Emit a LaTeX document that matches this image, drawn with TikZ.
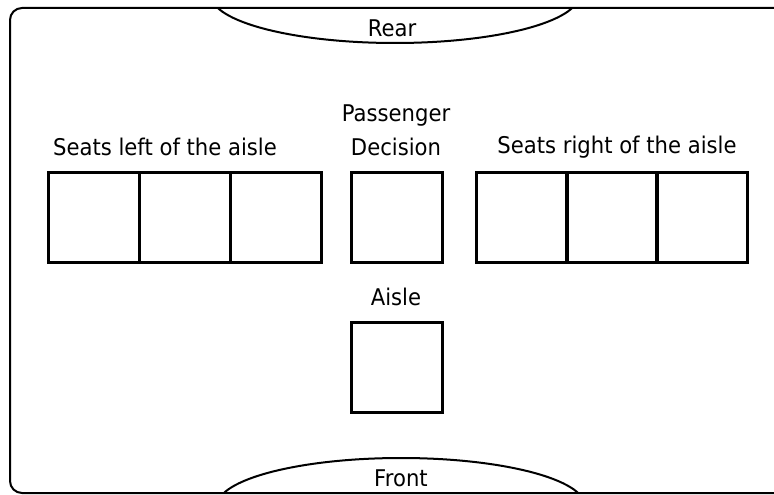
\documentclass[tikz,border=0pt]{standalone}
\usepackage{fontspec}
\setmainfont{DejaVu Sans}[FakeStretch=0.92]
\begin{document}
\begin{tikzpicture}[x=1pt,y=-1pt,
  seat/.style={draw,line width=3pt,minimum width=91pt,minimum height=90pt,inner sep=0pt,outer sep=0pt},
  lbl/.style={font=\fontsize{23}{34}\selectfont,inner sep=0pt,align=center},
  edge/.style={line width=2pt}]
\useasboundingbox (0,0) rectangle (774,495);
% cabin outline, its right side running past the page edge
\draw[edge,rounded corners=12pt] (800,8) -- (10,8) -- (10,493) -- (800,493);
% rear and front bulkhead arcs
\begin{scope}
  \clip (10,8) rectangle (800,493);
  \draw[edge] (395,-5) ellipse [x radius=184, y radius=48];
  \draw[edge] (401,506) ellipse [x radius=184, y radius=48];
\end{scope}
\node[lbl] (rear) at (392,28) {Rear};
\node[lbl] (front) at (401,478) {Front};
% seats left of the aisle
\node[seat] (l1) at (93.5,217) {};
\node[seat] (l2) at (184.5,217) {};
\node[seat] (l3) at (275.5,217) {};
% passenger decision
\node[seat] (pd) at (396.5,217) {};
% seats right of the aisle
\node[seat] (r1) at (522,217) {};
\node[seat] (r2) at (612,217) {};
\node[seat] (r3) at (702,217) {};
% aisle
\node[seat] (aisle) at (396.5,367) {};
\node[lbl] (lleft) at (165,147) {Seats left of the aisle};
\node[lbl] (lpd) at (396,130) {Passenger\\Decision};
\node[lbl] (lright) at (617,147) {Seats right of the aisle};
\node[lbl] (laisle) at (396,297) {Aisle};
\end{tikzpicture}
\end{document}
